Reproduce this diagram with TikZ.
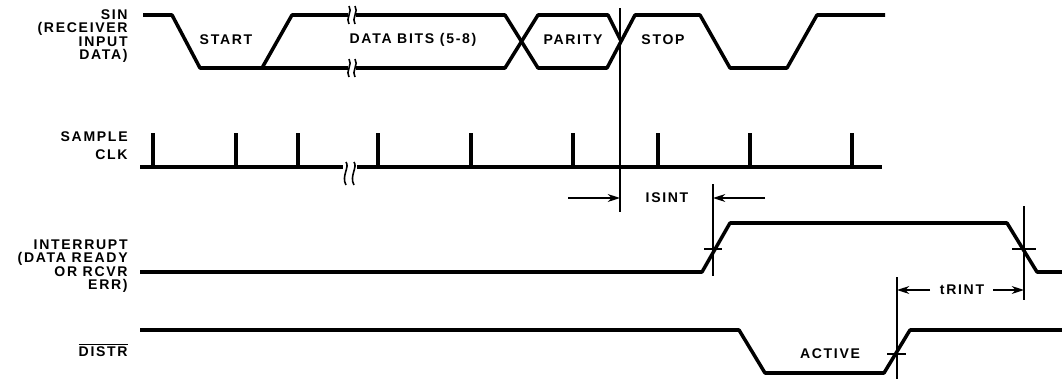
\documentclass[tikz,border=0pt]{standalone}
\usepackage{fontspec}
\setmainfont{Liberation Sans}[LetterSpace=12]
\usetikzlibrary{arrows.meta}

\tikzstyle{wave}  = [line width=2pt, line join=round]
\tikzstyle{guide} = [line width=0.8pt]
\tikzstyle{brk}   = [line width=0.9pt]
\tikzstyle{dim}   = [guide, -{Stealth[length=7pt,width=4.5pt]}]
\tikzstyle{sig}   = [anchor=east, align=right, inner sep=0pt,
                     font=\bfseries\fontsize{8}{7.7}\selectfont]
\tikzstyle{lbl}   = [inner sep=0pt, font=\bfseries\fontsize{8}{9}\selectfont]

\begin{document}
\begin{tikzpicture}[x=0.02cm, y=-0.02cm]
    \useasboundingbox (0,0) rectangle (1062,379);

    % signal names
    \node[sig] (sin)  at (128, 36)  {SIN\\(RECEIVER\\INPUT\\DATA)};
    \node[sig] (clk)  at (128,146)  {SAMPLE\\[2.5pt]CLK};
    \node[sig] (intr) at (128,266)  {INTERRUPT\\(DATA READY\\OR RCVR\\ERR)};
    \node[sig] (dstr) at (128,350)  {$\overline{\hbox{DISTR}}$};

    % SIN
    \draw[wave] (143,15) -- (172,15) -- (200,68) -- (262,68) -- (292,15) -- (348,15);
    \draw[wave] (262,68) -- (348,68);
    \draw[wave] (356,15) -- (505,15) -- (538,68) -- (607,68) -- (635,15) -- (700,15)
                -- (730,68) -- (787,68) -- (817,15) -- (885,15);
    \draw[wave] (356,68) -- (505,68) -- (538,15) -- (608,15) -- (621,41);
    \foreach \x in {349,355}
        \foreach \y in {15,68}
            \draw[brk] (\x,\y-9) .. controls (\x+4,\y-4) and (\x-4,\y+4) .. (\x,\y+9);

    \node[lbl] (start)  at (226,40) {START};
    \node[lbl] (data)   at (413,40) {DATA BITS (5-8)};
    \node[lbl] (parity) at (573,40) {PARITY};
    \node[lbl] (stop)   at (663,40) {STOP};

    % SAMPLE CLK
    \draw[wave] (140,167) -- (343,167);
    \draw[wave] (357,167) -- (882,167);
    \foreach \x in {153,236,298,378,471,573,658,750,852}
        \draw[wave] (\x,133) -- (\x,167);
    \foreach \x in {346,354}
        \draw[brk] (\x,162) .. controls (\x+4,167) and (\x-5,176) .. (\x,185);

    % INTERRUPT
    \draw[wave] (140,272) -- (702,272) -- (730,223) -- (1007,223) -- (1037,272) -- (1062,272);

    % DISTR
    \draw[wave] (140,330) -- (739,330) -- (765,373) -- (884,373) -- (910,330) -- (1062,330);
    \node[lbl] (active) at (830,354) {ACTIVE};

    % timing marks
    \coordinate (m1t) at (620,8);    \coordinate (m1b) at (620,212);
    \coordinate (m2t) at (713,184);  \coordinate (m2b) at (713,276);
    \coordinate (m3t) at (1024,206); \coordinate (m3b) at (1024,300);
    \coordinate (m4t) at (897,277);  \coordinate (m4b) at (897,379);
    \draw[guide] (m1t) -- (m1b);
    \draw[guide] (m2t) -- (m2b);
    \draw[guide] (m3t) -- (m3b);
    \draw[guide] (m4t) -- (m4b);
    \draw[guide] (704,249) -- (722,249);
    \draw[guide] (1012,249) -- (1036,249);
    \draw[guide] (887,354) -- (906,354);

    % ISINT
    \node[lbl] (isint) at (667,198) {ISINT};
    \coordinate (isl) at (568,198);
    \coordinate (isr) at (765,198);
    \draw[dim] (isl) -- (m1t |- isl);
    \draw[dim] (isr) -- (m2t |- isr);

    % tRINT
    \node[lbl] (trint) at (962,290) {tRINT};
    \coordinate (trl) at (930,290);
    \coordinate (trr) at (993,290);
    \draw[dim] (trl) -- (m4t |- trl);
    \draw[dim] (trr) -- (m3t |- trr);
\end{tikzpicture}
\end{document}
